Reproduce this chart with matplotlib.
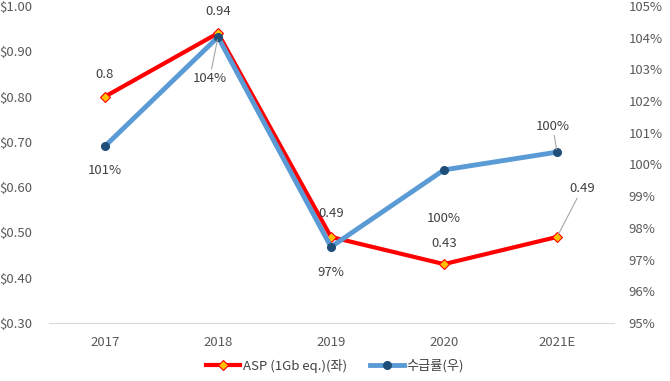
import matplotlib
matplotlib.use("Agg")
import matplotlib.pyplot as plt
from matplotlib.ticker import FuncFormatter

plt.rcParams['font.family'] = ['Noto Sans CJK KR', 'DejaVu Sans']

YEARS = ["2017", "2018", "2019", "2020", "2021E"]
ASP = [0.80, 0.94, 0.49, 0.43, 0.49]          # $ per 1Gb eq. (left)
SUPPLY = [100.58, 104.02, 97.40, 99.83, 100.39]  # 수급률 % (right)
ASP_LABELS = ["0.8", "0.94", "0.49", "0.43", "0.49"]
SUPPLY_LABELS = ["101%", "104%", "97%", "100%", "100%"]

TXT = "#404040"
TICK = "#595959"
RED = "#ff0000"
BLUE = "#5b9bd5"

fig = plt.figure(figsize=(6.7, 3.81), dpi=100)
ax1 = fig.add_axes([48.5 / 670, 1 - 323 / 381, 565 / 670, 317 / 381])
ax2 = ax1.twinx()

x = list(range(len(YEARS)))
l1, = ax1.plot(x, ASP, "-", color=RED, lw=3, marker="D", ms=5.5,
               mfc="#ffc000", mec=RED, mew=0.8, label="ASP (1Gb eq.)(좌)")
l2, = ax2.plot(x, SUPPLY, "-", color=BLUE, lw=3.5, marker="o", ms=5.5,
               mfc="#1f4e79", mec="#1f4e79", label="수급률(우)")

ax1.set_xlim(-0.5, len(YEARS) - 0.5)
ax1.set_ylim(0.30, 1.00)
ax1.set_yticks([0.30 + 0.1 * i for i in range(8)])
ax1.yaxis.set_major_formatter(FuncFormatter(lambda v, p: f"${v:.2f}"))
ax2.set_ylim(95, 105)
ax2.set_yticks(range(95, 106))
ax2.yaxis.set_major_formatter(FuncFormatter(lambda v, p: f"{v:.0f}%"))
ax1.set_xticks(x, YEARS)

for a in (ax1, ax2):
    for s in a.spines.values():
        s.set_visible(False)
    a.tick_params(length=0, labelsize=9.5, colors=TICK)
ax1.spines["bottom"].set_visible(True)
ax1.spines["bottom"].set_color("#d9d9d9")
ax1.tick_params(axis="x", pad=9)
ax1.tick_params(axis="y", pad=12)
ax2.tick_params(axis="y", pad=11)

# ASP labels (offsets in points)
asp_off = [(0, 11), (0, 11), (0, 12), (0, 10), (18, 30)]
for i, (v, lab) in enumerate(zip(ASP, ASP_LABELS)):
    dx, dy = asp_off[i]
    kw = {}
    if i == 4:
        kw["arrowprops"] = dict(arrowstyle="-", color="#a6a6a6", lw=0.8, shrinkA=0, shrinkB=2)
    ax1.annotate(lab, (i, v), xytext=(dx, dy), textcoords="offset points",
                 ha="center", va="bottom", fontsize=9.5, color=TXT, **kw)

sup_off = [(0, -13), (-6, -25), (0, -14), (0, -30), (-3, 14)]
for i, (v, lab) in enumerate(zip(SUPPLY, SUPPLY_LABELS)):
    dx, dy = sup_off[i]
    kw = {}
    if i in (1, 4):
        kw["arrowprops"] = dict(arrowstyle="-", color="#a6a6a6", lw=0.8, shrinkA=0, shrinkB=2)
    va = "top" if dy < 0 else "bottom"
    ax2.annotate(lab, (i, v), xytext=(dx, dy), textcoords="offset points",
                 ha="center", va=va, fontsize=9.5, color=TXT, **kw)

leg = fig.legend(handles=[l1, l2], loc="center", bbox_to_anchor=(0.5, 1 - 366 / 381),
                 ncol=2, frameon=False, fontsize=9.5, handlelength=2.6, columnspacing=1.7,
                 handletextpad=0.2)
for t in leg.get_texts():
    t.set_color(TXT)

fig.savefig("out.png", dpi=100)
